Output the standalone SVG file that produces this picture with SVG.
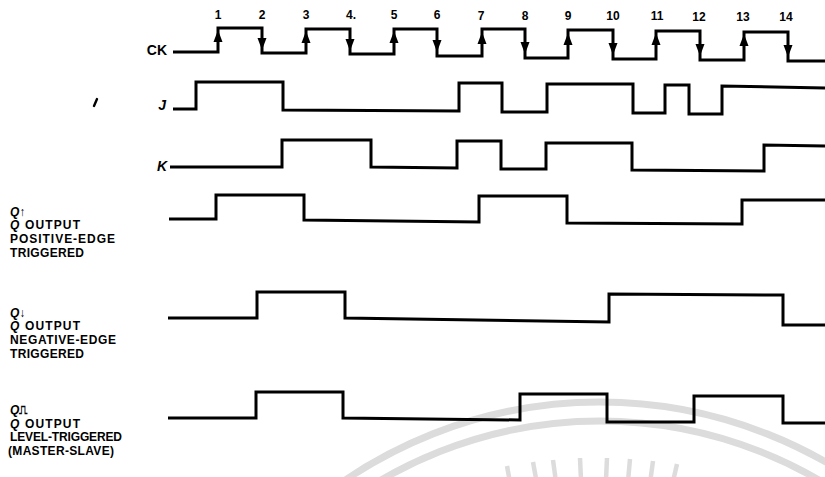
<svg xmlns="http://www.w3.org/2000/svg" xmlns:xlink="http://www.w3.org/1999/xlink" width="825" height="477" viewBox="0 0 825 477">
<style>
.wave{fill:none;stroke:#000;stroke-width:3;stroke-linejoin:miter;stroke-linecap:butt}
.wm{fill:none;stroke:#dcdcdc;stroke-width:7}
.ray{stroke:#dcdcdc;stroke-width:4.5}
.num{font-family:"Liberation Sans",Arial,sans-serif;font-weight:bold;font-size:12px;text-anchor:middle;fill:#000}
.sig{font-family:"Liberation Sans",Arial,sans-serif;font-weight:bold;font-size:14px;fill:#000;text-anchor:end}
.it{font-style:italic}
.lab{font-family:"Liberation Sans",Arial,sans-serif;font-weight:bold;font-size:12px;fill:#000}
</style>
<defs>
<polygon id="up" points="0,-7 -4.5,5 4.5,5" fill="#000"/>
<polygon id="dn" points="0,7 -4.5,-5 4.5,-5" fill="#000"/>
</defs>
<rect width="825" height="477" fill="#fff"/>
<g id="watermark">
<circle class="wm" cx="600" cy="856" r="454"/>
<circle class="wm" cx="600" cy="856" r="435"/>
<g class="ray">
<line x1="511" y1="488" x2="507" y2="466"/>
<line x1="537" y1="484" x2="533" y2="462"/>
<line x1="556" y1="482" x2="553" y2="460"/>
<line x1="581" y1="480" x2="580" y2="458"/>
<line x1="606" y1="480" x2="607" y2="458"/>
<line x1="628" y1="481" x2="630" y2="459"/>
<line x1="650" y1="483" x2="653" y2="461"/>
<line x1="672" y1="486" x2="677" y2="464"/>
</g>
</g>
<g id="numbers">
<text class="num" x="218" y="19">1</text>
<text class="num" x="262" y="19">2</text>
<text class="num" x="306" y="19">3</text>
<text class="num" x="351" y="19">4.</text>
<text class="num" x="394" y="19">5</text>
<text class="num" x="437" y="19">6</text>
<text class="num" x="481" y="20">7</text>
<text class="num" x="525" y="20">8</text>
<text class="num" x="568" y="20">9</text>
<text class="num" x="613" y="20">10</text>
<text class="num" x="657" y="20">11</text>
<text class="num" x="699" y="21">12</text>
<text class="num" x="743" y="21">13</text>
<text class="num" x="786" y="21">14</text>
</g>
<g id="ck">
<text class="sig" x="167" y="55">CK</text>
<polyline class="wave" points="173,52 218,52 218,28 262,28 262,53 306,53 306,29 350,29 350,54 394,54 394,29 437,29 437,56 482,56 482,29 525,29 525,58 568,58 568,30 613,30 613,59 656,59 656,31 700,31 700,60 744,60 744,32 788,32 788,61 825,61"/>
<use xlink:href="#up" transform="translate(218,37)"/>
<use xlink:href="#up" transform="translate(306,38)"/>
<use xlink:href="#up" transform="translate(394,38)"/>
<use xlink:href="#up" transform="translate(482,39)"/>
<use xlink:href="#up" transform="translate(568,40)"/>
<use xlink:href="#up" transform="translate(656,40)"/>
<use xlink:href="#up" transform="translate(744,41)"/>
<use xlink:href="#dn" transform="translate(262,43)"/>
<use xlink:href="#dn" transform="translate(350,44)"/>
<use xlink:href="#dn" transform="translate(437,45)"/>
<use xlink:href="#dn" transform="translate(525,47)"/>
<use xlink:href="#dn" transform="translate(613,48)"/>
<use xlink:href="#dn" transform="translate(700,49)"/>
<use xlink:href="#dn" transform="translate(788,50)"/>
</g>
<g id="j">
<path d="M97,99 L94,106" stroke="#000" stroke-width="2.4" stroke-linecap="round"/>
<text class="sig it" x="166" y="110">J</text>
<polyline class="wave" points="173,109 196,109 196,82 283,82 283,110 459,111 459,83 502,83 502,112 547,112 547,84 633,84 633,113 665,113 665,85 689,85 689,114 722,114 722,86 825,88"/>
</g>
<g id="k">
<text class="sig it" x="167" y="171">K</text>
<polyline class="wave" points="170,167 282,167 282,140 371,140 371,167 457,168 457,141 501,141 501,169 546,169 546,143 632,143 632,170 764,171 764,145 825,146"/>
</g>
<g id="q-positive">
<text class="lab" x="10" y="215.5"><tspan class="it">Q</tspan>↑</text>
<text class="lab" x="10" y="229.2" textLength="70"><tspan class="it">Q</tspan> OUTPUT</text>
<text class="lab" x="10" y="242.9" textLength="105">POSITIVE-EDGE</text>
<text class="lab" x="10" y="256.6" textLength="74">TRIGGERED</text>
<polyline class="wave" points="169,219 216,219 216,195 304,195 304,220 479,222 479,196 567,196 567,223 742,224 742,200 825,200"/>
</g>
<g id="q-negative">
<text class="lab" x="10" y="316.5"><tspan class="it">Q</tspan>↓</text>
<text class="lab" x="10" y="330.2" textLength="70"><tspan class="it">Q</tspan> OUTPUT</text>
<text class="lab" x="10" y="343.9" textLength="106">NEGATIVE-EDGE</text>
<text class="lab" x="10" y="357.6" textLength="74">TRIGGERED</text>
<polyline class="wave" points="168,318 257,318 257,292 345,292 345,318 609,322 609,294 783,295 783,325 825,325"/>
</g>
<g id="q-level">
<text class="lab" x="10" y="414"><tspan class="it">Q</tspan>⎍</text>
<text class="lab" x="10" y="427.7" textLength="70"><tspan class="it">Q</tspan> OUTPUT</text>
<text class="lab" x="10" y="441.4" textLength="112">LEVEL-TRIGGERED</text>
<text class="lab" x="8" y="455.1" textLength="106">(MASTER-SLAVE)</text>
<polyline class="wave" points="168,418 256,418 256,392 343,392 343,418 520,420 520,394 607,394 607,422 694,422 694,396 783,396 783,423 825,423"/>
</g>
</svg>
